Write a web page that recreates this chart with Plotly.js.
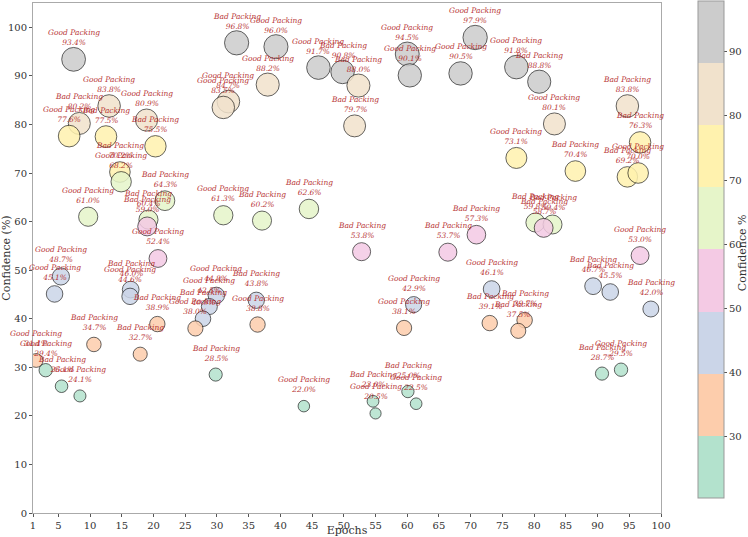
<!DOCTYPE html>
<html>
<head>
<meta charset="utf-8">
<script src="https://cdn.plot.ly/plotly-3.0.1.min.js"></script>
<style>html,body{margin:0;padding:0;background:#fff;}#chart{width:748px;height:537px;}</style>
</head>
<body>
<div id="chart"></div>
<script>
const epochs = [7.4,33.1,13.0,8.3,6.7,12.5,18.9,20.3,14.7,14.9,31.8,31.0,39.3,38.0,46.0,49.8,52.3,51.7,60.0,60.4,68.4,70.7,77.2,80.8,94.7,83.2,96.7,77.2,86.5,94.7,96.4,21.8,9.7,19.2,19.0,20.7,31.0,37.1,5.4,4.4,16.4,16.3,29.9,28.8,27.8,26.6,20.6,36.2,36.4,10.6,17.9,1.5,3.0,5.5,8.4,29.8,43.7,54.6,55.0,60.1,61.4,90.7,93.7,44.5,52.8,66.4,61.0,59.5,70.9,80.2,82.9,81.5,96.7,73.3,89.3,92.0,98.4,73.0,78.5,77.5];
const confidence = [93.4,96.8,83.8,80.2,77.6,77.5,80.9,75.5,70.2,68.2,84.7,83.5,96.0,88.2,91.7,90.8,88.0,79.7,94.5,90.1,90.5,97.9,91.8,88.8,83.8,80.1,76.3,73.1,70.4,69.2,70.0,64.3,61.0,60.4,59.0,52.4,61.3,60.2,48.7,45.1,46.0,44.6,44.8,42.5,40.0,38.0,38.9,43.8,38.8,34.7,32.7,31.4,29.4,26.1,24.1,28.5,22.0,23.0,20.5,25.0,22.5,28.7,29.5,62.6,53.8,53.7,42.9,38.1,57.3,59.8,59.4,58.7,53.0,46.1,46.7,45.5,42.0,39.1,39.7,37.5];
const packing = ["Good","Bad","Good","Bad","Good","Bad","Good","Bad","Bad","Good","Good","Good","Good","Good","Good","Bad","Bad","Bad","Good","Good","Good","Good","Good","Bad","Bad","Good","Bad","Good","Bad","Bad","Good","Bad","Good","Bad","Bad","Good","Good","Bad","Good","Good","Bad","Good","Good","Good","Bad","Good","Bad","Bad","Good","Bad","Bad","Good","Good","Bad","Good","Bad","Good","Bad","Good","Bad","Good","Bad","Good","Bad","Bad","Bad","Good","Good","Bad","Bad","Bad","Bad","Good","Good","Bad","Bad","Bad","Bad","Bad","Bad"];
const xTicks = [1,5,10,15,20,25,30,35,40,45,50,55,60,65,70,75,80,85,90,95,100];
const yTicks = [0,10,20,30,40,50,60,70,80,90,100];
const cbTicks = [30,40,50,60,70,80,90];
const palette = ['#b3e2cd','#fdcdac','#cbd5e8','#f4cae4','#e6f5c9','#fff2ae','#f1e2cc','#cccccc'];

const cmin = Math.min(...confidence), cmax = Math.max(...confidence);
const colorscale = [];
palette.forEach((c,i)=>{ colorscale.push([i/palette.length,c]); colorscale.push([(i+1)/palette.length,c]); });

const serif = 'DejaVu Serif, serif';
const trace = {
  type:'scatter', mode:'markers', x:epochs, y:confidence,
  marker:{
    size:confidence, sizemode:'area', sizeref:0.33,
    color:confidence, colorscale:colorscale, cmin:cmin, cmax:cmax,
    opacity:0.85,
    line:{color:'rgba(0,0,0,0.7)', width:1},
    colorbar:{
      x:1.059, xanchor:'left', xpad:0, y:0.0294, yanchor:'bottom', ypad:0,
      len:0.973, lenmode:'fraction',
      thickness:26, outlinecolor:'#999', outlinewidth:1,
      tickvals:cbTicks, ticks:'outside', ticklen:3, tickcolor:'#555',
      tickfont:{family:serif, size:10, color:'#333'}
    }
  },
  hoverinfo:'x+y', showlegend:false
};

const annotations = epochs.map((x,i)=>({
  x:x, y:confidence[i], xref:'x', yref:'y',
  text: packing[i]+' Packing<br>'+confidence[i].toFixed(1)+'%',
  showarrow:false, yanchor:'bottom', xanchor:'center', yshift:10,
  font:{family:serif, size:7.5, color:'#b22222', style:'italic'},
  opacity:0.9
}));
annotations.push({
  xref:'paper', yref:'paper', x:1.131, y:0.51, xanchor:'center', yanchor:'middle',
  text:'Confidence %', textangle:-90, showarrow:false,
  font:{family:serif, size:11, color:'#333'}
});

const layout = {
  width:748, height:537,
  margin:{l:33, r:87, t:2, b:24},
  paper_bgcolor:'#fff', plot_bgcolor:'#fff',
  xaxis:{
    range:[1,100], tickvals:xTicks, ticks:'outside', ticklen:3, tickcolor:'#555',
    showgrid:false, zeroline:false, showline:true, linecolor:'#aaa', linewidth:1, mirror:true,
    tickfont:{family:serif, size:10, color:'#333'},
    title:{text:'Epochs', font:{family:serif, size:11, color:'#333'}, standoff:2}
  },
  yaxis:{
    range:[0,105], tickvals:yTicks, ticks:'outside', ticklen:3, tickcolor:'#555',
    showgrid:false, zeroline:false, showline:true, linecolor:'#aaa', linewidth:1, mirror:true,
    tickfont:{family:serif, size:10, color:'#333'},
    title:{text:'Confidence (%)', font:{family:serif, size:11, color:'#333'}, standoff:2}
  },
  annotations:annotations
};

Plotly.newPlot('chart',[trace],layout,{displayModeBar:false, responsive:false});
</script>
</body>
</html>
